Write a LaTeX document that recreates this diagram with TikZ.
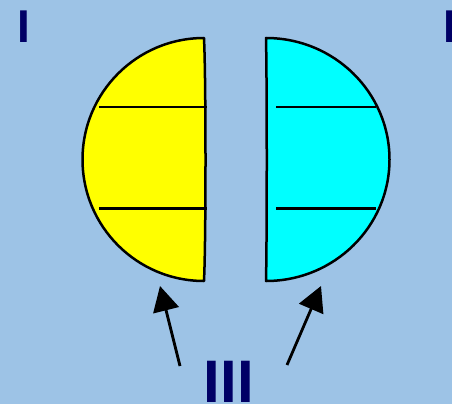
\documentclass[tikz,border=0pt]{standalone}
\usepackage{fontspec}
\setmainfont{Liberation Sans}
\usetikzlibrary{arrows.meta}
\definecolor{bgblue}{HTML}{9DC3E6}
\definecolor{navytext}{HTML}{000066}
\definecolor{halfyellow}{HTML}{FFFF00}
\definecolor{halfcyan}{HTML}{00FFFF}
\begin{document}
\begin{tikzpicture}[x=1pt,y=-1pt,
  outline/.style={draw=black,line width=2.5pt,line join=round},
  divider/.style={draw=black,line width=2.5pt},
  pointer/.style={draw=black,line width=2.8pt,-{Triangle[length=25pt,width=26pt]}},
  biglabel/.style={text=navytext,font=\bfseries,inner sep=0pt,anchor=base}]
\fill[bgblue] (0,0) rectangle (452,404);
\useasboundingbox (0,0) rectangle (452,404);
% left (yellow) half
\path[outline,fill=halfyellow] (204,38) arc[start angle=270,end angle=90,radius=121.5]
  .. controls (206,240) and (206,80) .. cycle;
\draw[divider] (99,107) -- (207,107);
\draw[divider] (99,208.5) -- (207,208.5);
% right (cyan) half
\path[outline,fill=halfcyan] (266,38) arc[start angle=-90,end angle=90,x radius=123.5,y radius=121.5]
  .. controls (267,240) and (267,80) .. cycle;
\draw[divider] (276,107) -- (376,107);
\draw[divider] (276,208.5) -- (376,208.5);
% labels
\node[biglabel,font=\fontsize{46}{46}\selectfont\bfseries] (lI) at (24,42) {I};
\node[biglabel,font=\fontsize{46}{46}\selectfont\bfseries] (rI) at (450,42) {I};
\node[biglabel,font=\fontsize{60}{60}\selectfont\bfseries] (III) at (229,402) {III};
% arrows
\coordinate (ltail) at (180,366);
\coordinate (ltip) at (160,286);
\coordinate (rtail) at (287,365);
\coordinate (rtip) at (321,286);
\draw[pointer] (ltail) -- (ltip);
\draw[pointer] (rtail) -- (rtip);
\end{tikzpicture}
\end{document}
